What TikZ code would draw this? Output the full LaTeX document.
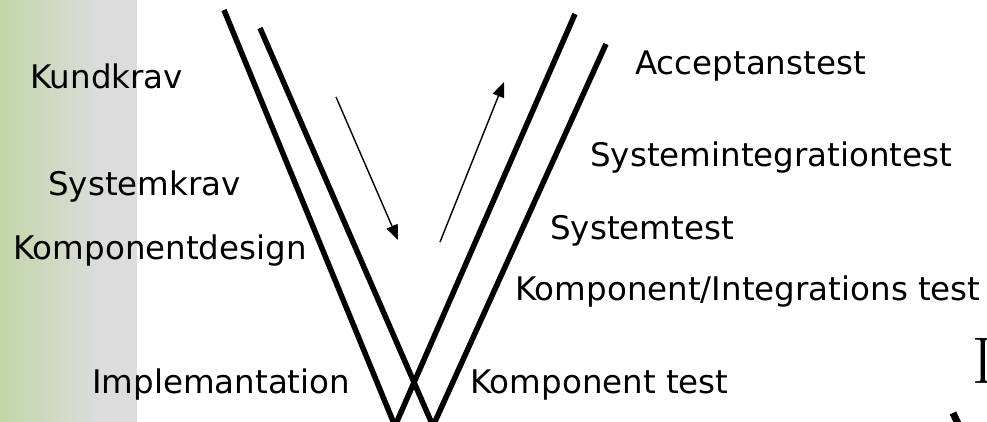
\documentclass[tikz,border=0pt]{standalone}
\usepackage{fontspec}
\newfontfamily\labelfont{DejaVu Sans}
\usetikzlibrary{arrows.meta}
\definecolor{bandgreen}{RGB}{194,214,168}
\definecolor{bandgray}{RGB}{220,220,220}
\begin{document}
\begin{tikzpicture}[
  x=1pt, y=-1pt,
  vline/.style={line width=5.5pt},
  flow/.style={line width=1.4pt, -{Triangle[length=15pt,width=12pt]}},
  phase/.style={anchor=base west, inner sep=0pt,
    font=\labelfont\fontsize{32.5}{32.5}\selectfont}]
  \useasboundingbox (0,0) rectangle (987,422);
  \shade[left color=bandgreen, right color=bandgray] (0,0) rectangle (100,422);
  \fill[bandgray] (100,0) rectangle (137,422);

  \coordinate (vonetop) at (224,10);
  \coordinate (vonebottom) at (395,426);
  \coordinate (voneend) at (575,14);
  \coordinate (vtwotop) at (260,28);
  \coordinate (vtwobottom) at (433,426);
  \coordinate (vtwoend) at (606,44);
  \draw[vline] (vonetop) -- (vonebottom) -- (voneend);
  \draw[vline] (vtwotop) -- (vtwobottom) -- (vtwoend);

  \coordinate (downstart) at (336,97);
  \coordinate (downend) at (398,240);
  \coordinate (upstart) at (440,242);
  \coordinate (upend) at (504,82);
  \draw[flow] (downstart) -- (downend);
  \draw[flow] (upstart) -- (upend);

  \node[phase] (kundkrav) at (30,89) {Kundkrav};
  \node[phase] (systemkrav) at (48,195) {Systemkrav};
  \node[phase] (kompdesign) at (13,259) {Komponentdesign};
  \node[phase] (impl) at (92,393) {Implemantation};
  \node[phase] (acctest) at (635,75) {Acceptanstest};
  \node[phase] (sysinttest) at (590,167) {Systemintegrationtest};
  \node[phase] (systest) at (550,239) {Systemtest};
  \node[phase] (kompinttest) at (515,300) {Komponent/Integrations test};
  \node[phase] (komptest) at (470,393) {Komponent test};

  \node[anchor=base west, inner sep=0pt, font=\fontsize{66}{66}\selectfont]
    (titlei) at (972,383) {I};
  \draw[line width=7pt] (953,413) -- (961,430);
\end{tikzpicture}
\end{document}
